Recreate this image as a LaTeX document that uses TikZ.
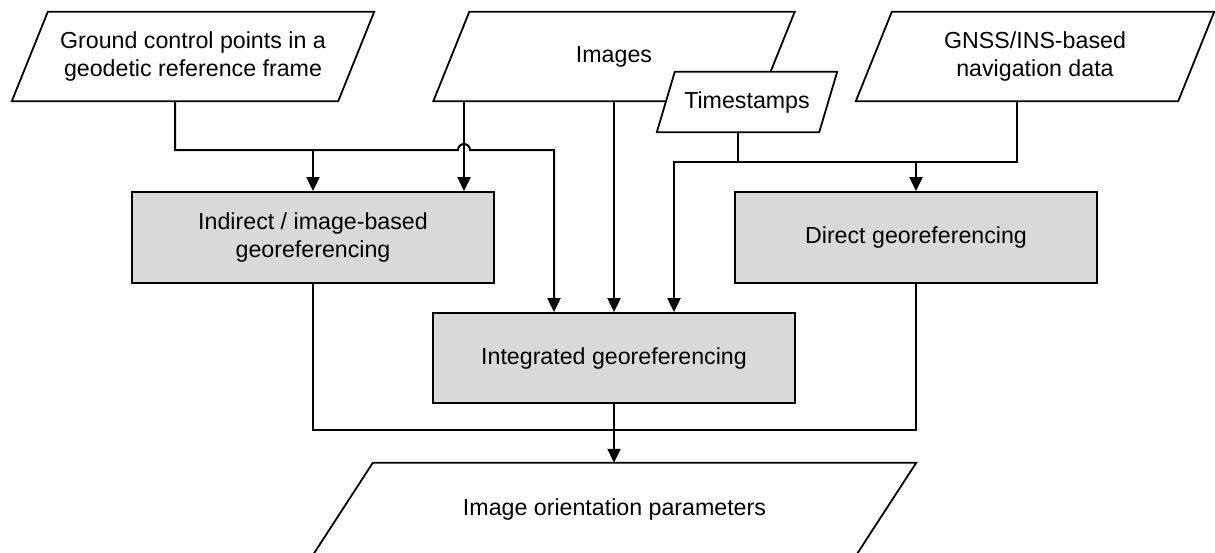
\documentclass[tikz,border=0pt]{standalone}
\usepackage{fontspec}
\setmainfont{Liberation Sans}
\usetikzlibrary{arrows.meta,backgrounds}

\definecolor{boxgray}{HTML}{D9D9D9}

\tikzset{
  every node/.style={font=\fontsize{23.2}{27.5}\selectfont, align=center, inner sep=0pt},
  slanted/.style={rectangle, minimum height=89pt},
  process/.style={rectangle, draw=black, fill=boxgray, line width=1.8pt,
                  minimum width=362pt, minimum height=91pt},
  frame/.style={draw=black, fill=white, line width=1.8pt},
  link/.style={draw=black, line width=2pt},
  flow/.style={link, -{Triangle[width=13pt,length=14pt]}},
}

% parallelogram outline around a node: #1 node name, #2 horizontal slant
\newcommand\slantframe[2]{%
  \path[frame] ([xshift=#2]#1.north west) -- (#1.north east)
     -- ([xshift=-#2]#1.south east) -- (#1.south west) -- cycle;}
% midpoint of the lower edge of such a parallelogram
\newcommand\footpoint[2]{\coordinate (#1-foot) at ([xshift=-#2/2]#1.south);}

\begin{document}
\begin{tikzpicture}[x=1pt, y=-1pt]
\useasboundingbox (0,0) rectangle (1215,552);
\clip (0,0) rectangle (1215,552);

% data sources and result
\node[slanted, minimum width=362pt] (gcp) at (193,56.5)
  {Ground control points in a\\geodetic reference frame};
\node[slanted, minimum width=361pt] (images) at (614,56.5) {Images};
\node[slanted, minimum width=358pt] (gnss) at (1035,56.5)
  {GNSS/INS-based\\navigation data};
\node[slanted, minimum width=180pt, minimum height=60pt] (ts) at (747,102) {Timestamps};
\node[slanted, minimum width=603pt, minimum height=92pt] (out) at (614.5,509)
  {Image orientation parameters};

% processing steps
\node[process] (indirect) at (313,237.5) {Indirect / image-based\\georeferencing};
\node[process] (direct) at (916,237.5) {Direct georeferencing};
\node[process, minimum height=90pt] (integrated) at (614,358) {Integrated georeferencing};

\begin{pgfonlayer}{background}
  \slantframe{gcp}{36}
  \slantframe{images}{36}
  \slantframe{ts}{18}
  \slantframe{gnss}{36}
  \slantframe{out}{60}
\end{pgfonlayer}

\footpoint{gcp}{36}
\footpoint{ts}{18}
\footpoint{gnss}{36}

% connection points
\coordinate (imgA) at ([xshift=-150pt]images.south);
\coordinate (intA) at ([xshift=-60pt]integrated.north);
\coordinate (intC) at ([xshift=60pt]integrated.north);
\coordinate (hop) at (imgA |- 0,150);
\coordinate (nav) at (gnss-foot |- 0,162);
\coordinate (ret) at (0,430);

% ground control points
\draw[flow] (gcp-foot) |- ([xshift=-6pt]hop)
  arc[start angle=180, end angle=0, radius=6pt] -| (intA);
\draw[flow] (indirect.north |- hop) -- (indirect.north);

% images
\draw[flow] (imgA) -- (imgA |- indirect.north);
\draw[flow] (images.south) -- (images.south |- integrated.north);

% timestamps and navigation data
\draw[link] (ts-foot) -- (ts-foot |- nav);
\draw[flow] (gnss-foot) -- (nav) -| (intC);
\draw[flow] (direct.north |- nav) -- (direct.north);

% results
\draw[link] (indirect.south) |- (ret -| direct.south) -- (direct.south);
\draw[flow] (integrated.south) -- (integrated.south |- out.north);
\end{tikzpicture}
\end{document}
